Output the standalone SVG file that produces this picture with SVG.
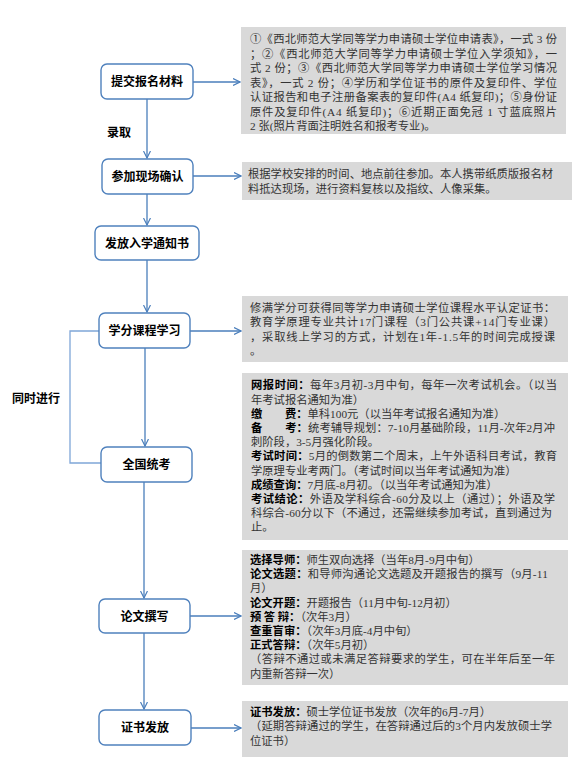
<svg xmlns="http://www.w3.org/2000/svg" width="578" height="766" viewBox="0 0 578 766">
<style>
.bg{fill:#ffffff}
.node rect{fill:#ffffff;stroke:#4f81bd;stroke-width:1.4}
.node text{font-family:"Noto Sans CJK SC","Noto Sans",sans-serif;font-size:12px;font-weight:bold;fill:#000;text-anchor:middle}
.lbl{font-family:"Noto Sans CJK SC","Noto Sans",sans-serif;font-size:12px;font-weight:bold;fill:#000}
.box rect{fill:#d9d9d9}
.box text{font-family:"Liberation Serif","Noto Sans CJK SC",serif;font-size:11.3px;fill:#333}
.b{font-weight:bold;fill:#000;font-family:"Noto Sans CJK SC",sans-serif}
.con path{fill:none;stroke:#4a7ebb;stroke-width:1.3}
.con path.br{stroke:#7fa6d8;stroke-width:1.3}
</style>
<defs>
<marker id="arr" viewBox="0 0 8 8" refX="7.5" refY="4" markerWidth="8" markerHeight="8" markerUnits="userSpaceOnUse" orient="auto">
<path d="M0.5,0.5 L7.5,4 L0.5,7.5" fill="none" stroke="#4a7ebb" stroke-width="1.2"/>
</marker>
</defs>
<rect class="bg" x="0" y="0" width="578" height="766"/>

<g id="connectors" class="con">
<path d="M147,99 V158" marker-end="url(#arr)"/>
<path d="M147,194 V225" marker-end="url(#arr)"/>
<path d="M147,260 V312" marker-end="url(#arr)"/>
<path d="M145,348 V446" marker-end="url(#arr)"/>
<path d="M144,482 V598" marker-end="url(#arr)"/>
<path d="M144,633 V709" marker-end="url(#arr)"/>
<path d="M193,82 H240" marker-end="url(#arr)"/>
<path d="M193,176 H241" marker-end="url(#arr)"/>
<path d="M190,331 H241" marker-end="url(#arr)"/>
<path d="M190,616 H241" marker-end="url(#arr)"/>
<path d="M191,728 H241" marker-end="url(#arr)"/>
<path class="br" d="M99,331 H70 V463 H101"/>
</g>

<text class="lbl" x="107" y="136.5">录取</text>
<text class="lbl" x="12" y="402.5">同时进行</text>

<g id="n1" class="node"><rect x="101" y="64" width="92" height="35" rx="6"/><text x="147" y="86">提交报名材料</text></g>
<g id="n2" class="node"><rect x="102" y="159" width="91" height="35" rx="6"/><text x="147.5" y="181">参加现场确认</text></g>
<g id="n3" class="node"><rect x="95" y="226" width="104" height="34" rx="6"/><text x="147" y="247.5">发放入学通知书</text></g>
<g id="n4" class="node"><rect x="99" y="313" width="91" height="35" rx="6"/><text x="144.5" y="335">学分课程学习</text></g>
<g id="n5" class="node"><rect x="101" y="447" width="91" height="35" rx="6"/><text x="146.5" y="469">全国统考</text></g>
<g id="n6" class="node"><rect x="99" y="599" width="91" height="34" rx="6"/><text x="144.5" y="620.5">论文撰写</text></g>
<g id="n7" class="node"><rect x="99" y="710" width="92" height="35" rx="6"/><text x="145" y="732">证书发放</text></g>

<g id="box1" class="box">
<rect x="241" y="27" width="325" height="107"/>
<text x="250" y="43.4" textLength="307" lengthAdjust="spacing">①《西北师范大学同等学力申请硕士学位申请表》，一式 3 份</text>
<text x="250" y="57.9" textLength="307" lengthAdjust="spacing">；②《西北师范大学同等学力申请硕士学位入学须知》，一</text>
<text x="250" y="72.4" textLength="307" lengthAdjust="spacing">式 2 份；③《西北师范大学同等学力申请硕士学位学习情况</text>
<text x="250" y="86.9" textLength="307" lengthAdjust="spacing">表》，一式 2 份；④学历和学位证书的原件及复印件、学位</text>
<text x="250" y="101.4" textLength="307" lengthAdjust="spacing">认证报告和电子注册备案表的复印件(A4 纸复印)；⑤身份证</text>
<text x="250" y="115.9" textLength="307" lengthAdjust="spacing">原件及复印件(A4 纸复印)；⑥近期正面免冠 1 寸蓝底照片</text>
<text x="250" y="130.4">2 张(照片背面注明姓名和报考专业)。</text>
</g>

<g id="box2" class="box">
<rect x="242" y="162" width="330" height="38"/>
<text x="248" y="178.2" textLength="305" lengthAdjust="spacing">根据学校安排的时间、地点前往参加。本人携带纸质版报名材</text>
<text x="248" y="192.6">料抵达现场，进行资料复核以及指纹、人像采集。</text>
</g>

<g id="box3" class="box">
<rect x="242" y="296" width="326" height="66"/>
<text x="250" y="312.2" textLength="305" lengthAdjust="spacing">修满学分可获得同等学力申请硕士学位课程水平认定证书：</text>
<text x="250" y="326.4" textLength="305" lengthAdjust="spacing">教育学原理专业共计17门课程（3门公共课+14门专业课）</text>
<text x="250" y="340.6" textLength="305" lengthAdjust="spacing">，采取线上学习的方式，计划在1年-1.5年的时间完成授课</text>
<text x="250" y="354.8">。</text>
</g>

<g id="box4" class="box">
<rect x="242" y="373" width="326" height="167"/>
<text x="251" y="389.4" textLength="306" lengthAdjust="spacing"><tspan class="b">网报时间：</tspan>每年3月初-3月中旬，每年一次考试机会。（以当</text>
<text x="251" y="403.6">年考试报名通知为准）</text>
<text x="251" y="417.8"><tspan class="b">缴　　费：</tspan>单科100元（以当年考试报名通知为准）</text>
<text x="251" y="432" textLength="304" lengthAdjust="spacing"><tspan class="b">备　　考：</tspan>统考辅导规划：7-10月基础阶段，11月-次年2月冲</text>
<text x="251" y="446.2">刺阶段，3-5月强化阶段。</text>
<text x="251" y="460.4" textLength="306" lengthAdjust="spacing"><tspan class="b">考试时间：</tspan>5月的倒数第二个周末，上午外语科目考试，教育</text>
<text x="251" y="474.6">学原理专业考两门。（考试时间以当年考试通知为准）</text>
<text x="251" y="488.8"><tspan class="b">成绩查询：</tspan>7月底-8月初。（以当年考试通知为准）</text>
<text x="251" y="503" textLength="304" lengthAdjust="spacing"><tspan class="b">考试结论：</tspan>外语及学科综合-60分及以上（通过）；外语及学</text>
<text x="251" y="517.2" textLength="301" lengthAdjust="spacing">科综合-60分以下（不通过，还需继续参加考试，直到通过为</text>
<text x="251" y="531.4">止。</text>
</g>

<g id="box5" class="box">
<rect x="242" y="550" width="326" height="135"/>
<text x="250" y="564"><tspan class="b">选择导师：</tspan>师生双向选择（当年8月-9月中旬）</text>
<text x="250" y="578.2" textLength="298" lengthAdjust="spacing"><tspan class="b">论文选题：</tspan>和导师沟通论文选题及开题报告的撰写（9月-11</text>
<text x="250" y="592.4">月）</text>
<text x="250" y="606.6"><tspan class="b">论文开题：</tspan>开题报告（11月中旬-12月初）</text>
<text x="250" y="620.8"><tspan class="b">预 答 辩：</tspan>（次年3月）</text>
<text x="250" y="635"><tspan class="b">查重盲审：</tspan>（次年3月底-4月中旬）</text>
<text x="250" y="649.2"><tspan class="b">正式答辩：</tspan>（次年5月初）</text>
<text x="250" y="663.4" textLength="305" lengthAdjust="spacing">（答辩不通过或未满足答辩要求的学生，可在半年后至一年</text>
<text x="250" y="677.6">内重新答辩一次）</text>
</g>

<g id="box6" class="box">
<rect x="242" y="701" width="326" height="56"/>
<text x="250" y="716.2"><tspan class="b">证书发放：</tspan>硕士学位证书发放（次年的6月-7月）</text>
<text x="250" y="730.4" textLength="302" lengthAdjust="spacing">（延期答辩通过的学生，在答辩通过后的3个月内发放硕士学</text>
<text x="250" y="744.6">位证书）</text>
</g>
</svg>
